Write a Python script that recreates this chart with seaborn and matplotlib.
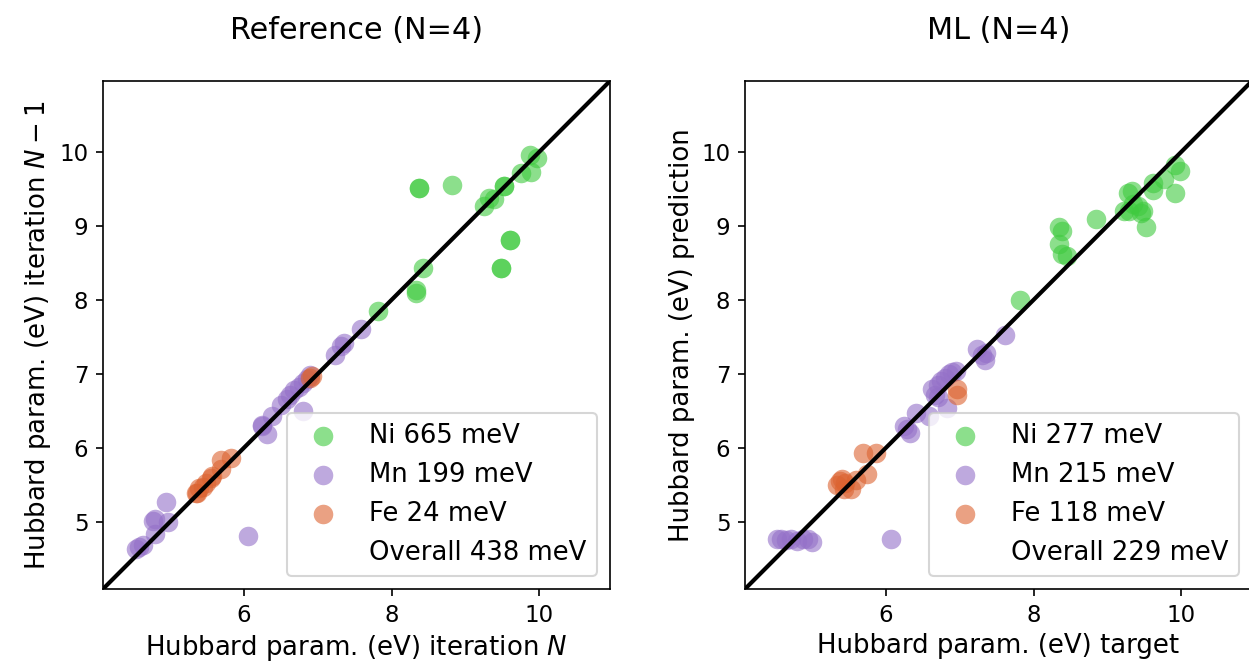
import numpy as np
import pandas as pd
import seaborn as sns
import matplotlib.pyplot as plt
from matplotlib.lines import Line2D

# Reference panel: iteration N (x) vs iteration N-1 (y)
ref_ni_x = [8.37, 8.37, 8.82, 9.88, 9.97, 9.76, 9.89, 9.52, 9.52, 9.39, 9.25, 9.32,
            9.61, 9.61, 9.48, 9.48, 8.42, 8.33, 8.33, 7.82]
ref_ni_y = [9.51, 9.51, 9.55, 9.96, 9.92, 9.72, 9.73, 9.54, 9.54, 9.36, 9.27, 9.38,
            8.81, 8.81, 8.43, 8.43, 8.43, 8.13, 8.09, 7.85]
ref_mn_x = [7.58, 7.35, 7.32, 7.23, 6.50, 6.58, 6.62, 6.68, 6.74, 6.80, 6.86, 6.90,
            6.80, 6.38, 6.25, 6.25, 6.31, 4.95, 4.77, 4.79, 4.97, 4.79, 4.63, 4.58,
            4.54, 6.05]
ref_mn_y = [7.61, 7.42, 7.37, 7.26, 6.58, 6.66, 6.72, 6.78, 6.82, 6.88, 6.93, 6.98,
            6.50, 6.43, 6.31, 6.30, 6.18, 5.26, 5.01, 5.03, 4.99, 4.83, 4.69, 4.66,
            4.63, 4.81]
ref_fe_x = [5.35, 5.37, 5.39, 5.44, 5.48, 5.55, 5.57, 5.69, 5.69, 5.82, 6.92, 6.90]
ref_fe_y = [5.39, 5.39, 5.46, 5.47, 5.53, 5.59, 5.62, 5.71, 5.84, 5.86, 6.97, 6.94]

# ML panel: target (x) vs prediction (y)
ml_ni_x = [9.91, 9.99, 9.77, 9.62, 9.62, 9.92, 9.28, 9.34, 9.22, 9.30, 9.48, 9.41,
           9.53, 8.84, 8.35, 8.39, 8.35, 8.39, 8.45, 7.81, 9.35, 9.45]
ml_ni_y = [9.83, 9.74, 9.63, 9.58, 9.49, 9.44, 9.45, 9.47, 9.20, 9.20, 9.20, 9.27,
           8.99, 9.10, 8.99, 8.93, 8.75, 8.62, 8.60, 8.00, 9.30, 9.18]
ml_mn_x = [7.61, 7.23, 7.36, 7.34, 7.30, 6.62, 6.66, 6.70, 6.75, 6.80, 6.85, 6.90,
           6.95, 6.70, 6.83, 6.41, 6.59, 6.25, 6.32, 6.28, 4.53, 4.58, 4.65, 4.72,
           4.80, 4.88, 4.95, 5.00, 6.07]
ml_mn_y = [7.53, 7.33, 7.28, 7.19, 7.25, 6.80, 6.72, 6.85, 6.90, 6.95, 7.00, 7.02,
           7.04, 6.68, 6.54, 6.47, 6.43, 6.29, 6.20, 6.25, 4.77, 4.77, 4.75, 4.76,
           4.74, 4.77, 4.77, 4.73, 4.76]
ml_fe_x = [5.69, 5.87, 5.38, 5.34, 5.43, 5.52, 5.60, 5.74, 5.40, 5.45, 6.96, 6.96]
ml_fe_y = [5.93, 5.93, 5.55, 5.50, 5.44, 5.44, 5.57, 5.64, 5.58, 5.52, 6.79, 6.72]

elements = ['Ni', 'Mn', 'Fe']
colors = {'Ni': '#3fca3f', 'Mn': '#9470c8', 'Fe': '#dc6330'}
ref_err = {'Ni': 665, 'Mn': 199, 'Fe': 24}
ml_err = {'Ni': 277, 'Mn': 215, 'Fe': 118}
ref_overall = 438
ml_overall = 229

lims = (4.09, 10.96)


def make_df(xs, ys):
    frames = []
    for el, x, y in zip(elements, xs, ys):
        frames.append(pd.DataFrame({'x': x, 'y': y, 'el': el}))
    return pd.concat(frames, ignore_index=True)


df_ref = make_df([ref_ni_x, ref_mn_x, ref_fe_x], [ref_ni_y, ref_mn_y, ref_fe_y])
df_ml = make_df([ml_ni_x, ml_mn_x, ml_fe_x], [ml_ni_y, ml_mn_y, ml_fe_y])

W, H = 1249, 671
fig = plt.figure(figsize=(W / 150, H / 150), dpi=150)
ax1 = fig.add_axes([103 / W, 82 / H, 507 / W, 508 / H])
ax2 = fig.add_axes([745 / W, 82 / H, 507 / W, 508 / H])


def draw(ax, df, err, overall, title, xlabel, ylabel):
    for el in elements:
        sub = df[df['el'] == el]
        sns.scatterplot(x=sub['x'], y=sub['y'], color=colors[el], alpha=0.6, s=88,
                        linewidth=0, label=f'{el} {err[el]} meV', ax=ax)
    ax.plot(lims, lims, color='black', lw=2)
    ax.set_xlim(lims)
    ax.set_ylim(lims)
    ax.set_xticks([6, 8, 10])
    ax.set_yticks([5, 6, 7, 8, 9, 10])
    ax.tick_params(labelsize=11)
    ax.set_title(title, fontsize=14.5, pad=20)
    ax.set_xlabel(xlabel, fontsize=12.5, labelpad=3)
    ax.set_ylabel(ylabel, fontsize=12.5, labelpad=3)
    handles, labels = ax.get_legend_handles_labels()
    handles.append(Line2D([], [], linestyle='none', marker=''))
    labels.append(f'Overall {overall} meV')
    ax.legend(handles, labels, loc='lower right', fontsize=12.4)


draw(ax1, df_ref, ref_err, ref_overall, 'Reference (N=4)',
     'Hubbard param. (eV) iteration $N$', 'Hubbard param. (eV) iteration $N-1$')
draw(ax2, df_ml, ml_err, ml_overall, 'ML (N=4)',
     'Hubbard param. (eV) target', 'Hubbard param. (eV) prediction')

fig.savefig('out.png', dpi=150)
